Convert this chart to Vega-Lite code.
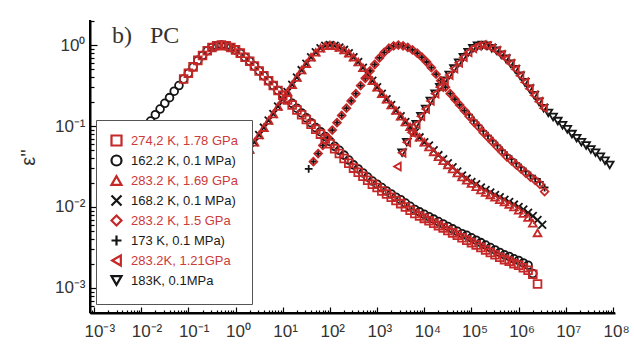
{
  "$schema": "https://vega.github.io/schema/vega-lite/v6.json",
  "width": 525,
  "height": 293,
  "autosize": {"type": "none"},
  "padding": {"left": 90, "top": 20, "right": 19, "bottom": 47},
  "background": "white",
  "config": {"view": {"stroke": null}, "axis": {"domainColor": "#000000", "domainWidth": 2, "domainOpacity": 1, "tickColor": "#000000", "tickWidth": 1.2, "tickOpacity": 1}},
  "layer": [
    {
      "data": {"values": [
        {"s":"162.2 K, 0.1 MPa)","f":5.012e-3,"e":0.0398},{"s":"162.2 K, 0.1 MPa)","f":6.31e-3,"e":0.0501},{"s":"162.2 K, 0.1 MPa)","f":7.943e-3,"e":0.0631},{"s":"162.2 K, 0.1 MPa)","f":0.01,"e":0.0776},{"s":"162.2 K, 0.1 MPa)","f":0.01259,"e":0.0955},{"s":"162.2 K, 0.1 MPa)","f":0.01585,"e":0.115},{"s":"162.2 K, 0.1 MPa)","f":0.01995,"e":0.138},{"s":"162.2 K, 0.1 MPa)","f":0.02512,"e":0.162},{"s":"162.2 K, 0.1 MPa)","f":0.03162,"e":0.191},{"s":"162.2 K, 0.1 MPa)","f":0.03981,"e":0.224},{"s":"162.2 K, 0.1 MPa)","f":0.05012,"e":0.269},{"s":"162.2 K, 0.1 MPa)","f":0.0631,"e":0.316},{"s":"162.2 K, 0.1 MPa)","f":0.07943,"e":0.38},{"s":"162.2 K, 0.1 MPa)","f":0.1,"e":0.447},{"s":"162.2 K, 0.1 MPa)","f":0.1259,"e":0.537},{"s":"162.2 K, 0.1 MPa)","f":0.1585,"e":0.646},{"s":"162.2 K, 0.1 MPa)","f":0.1995,"e":0.741},{"s":"162.2 K, 0.1 MPa)","f":0.2512,"e":0.851},{"s":"162.2 K, 0.1 MPa)","f":0.3162,"e":0.933},{"s":"162.2 K, 0.1 MPa)","f":0.3981,"e":0.977},{"s":"162.2 K, 0.1 MPa)","f":0.5012,"e":1},{"s":"162.2 K, 0.1 MPa)","f":0.631,"e":0.977},{"s":"162.2 K, 0.1 MPa)","f":0.7943,"e":0.933},{"s":"162.2 K, 0.1 MPa)","f":1,"e":0.871},{"s":"162.2 K, 0.1 MPa)","f":1.259,"e":0.794},{"s":"162.2 K, 0.1 MPa)","f":1.585,"e":0.708},{"s":"162.2 K, 0.1 MPa)","f":1.995,"e":0.631},{"s":"162.2 K, 0.1 MPa)","f":2.512,"e":0.55},{"s":"162.2 K, 0.1 MPa)","f":3.162,"e":0.479},{"s":"162.2 K, 0.1 MPa)","f":3.981,"e":0.417},{"s":"162.2 K, 0.1 MPa)","f":5.012,"e":0.363},{"s":"162.2 K, 0.1 MPa)","f":6.31,"e":0.316},{"s":"162.2 K, 0.1 MPa)","f":7.943,"e":0.275},{"s":"162.2 K, 0.1 MPa)","f":10,"e":0.24},{"s":"162.2 K, 0.1 MPa)","f":12.59,"e":0.219},{"s":"162.2 K, 0.1 MPa)","f":15.85,"e":0.191},{"s":"162.2 K, 0.1 MPa)","f":19.95,"e":0.166},{"s":"162.2 K, 0.1 MPa)","f":25.12,"e":0.145},{"s":"162.2 K, 0.1 MPa)","f":31.62,"e":0.126},{"s":"162.2 K, 0.1 MPa)","f":39.81,"e":0.11},{"s":"162.2 K, 0.1 MPa)","f":50.12,"e":0.0955},{"s":"162.2 K, 0.1 MPa)","f":63.1,"e":0.0851},{"s":"162.2 K, 0.1 MPa)","f":79.43,"e":0.0741},{"s":"162.2 K, 0.1 MPa)","f":100,"e":0.0646},{"s":"162.2 K, 0.1 MPa)","f":125.9,"e":0.0562},{"s":"162.2 K, 0.1 MPa)","f":158.5,"e":0.0501},{"s":"162.2 K, 0.1 MPa)","f":199.5,"e":0.0437},{"s":"162.2 K, 0.1 MPa)","f":251.2,"e":0.038},{"s":"162.2 K, 0.1 MPa)","f":316.2,"e":0.0331},{"s":"162.2 K, 0.1 MPa)","f":398.1,"e":0.0295},{"s":"162.2 K, 0.1 MPa)","f":501.2,"e":0.0263},{"s":"162.2 K, 0.1 MPa)","f":631,"e":0.0234},{"s":"162.2 K, 0.1 MPa)","f":794.3,"e":0.0209},{"s":"162.2 K, 0.1 MPa)","f":1000,"e":0.0191},{"s":"162.2 K, 0.1 MPa)","f":1259,"e":0.0174},{"s":"162.2 K, 0.1 MPa)","f":1585,"e":0.0158},{"s":"162.2 K, 0.1 MPa)","f":1995,"e":0.0145},{"s":"162.2 K, 0.1 MPa)","f":2512,"e":0.0132},{"s":"162.2 K, 0.1 MPa)","f":3162,"e":0.0123},{"s":"162.2 K, 0.1 MPa)","f":3981,"e":0.0112},{"s":"162.2 K, 0.1 MPa)","f":5012,"e":0.0102},{"s":"162.2 K, 0.1 MPa)","f":6310,"e":0.00933},{"s":"162.2 K, 0.1 MPa)","f":7943,"e":0.00871},{"s":"162.2 K, 0.1 MPa)","f":10000,"e":0.00813},{"s":"162.2 K, 0.1 MPa)","f":12590,"e":0.00759},{"s":"162.2 K, 0.1 MPa)","f":15850,"e":0.00708},{"s":"162.2 K, 0.1 MPa)","f":19950,"e":0.00661},{"s":"162.2 K, 0.1 MPa)","f":25120,"e":0.00617},{"s":"162.2 K, 0.1 MPa)","f":31620,"e":0.00575},{"s":"162.2 K, 0.1 MPa)","f":39810,"e":0.00537},{"s":"162.2 K, 0.1 MPa)","f":50120,"e":0.00501},{"s":"162.2 K, 0.1 MPa)","f":63100,"e":0.00468},{"s":"162.2 K, 0.1 MPa)","f":79430,"e":0.00447},{"s":"162.2 K, 0.1 MPa)","f":100000,"e":0.00417},{"s":"162.2 K, 0.1 MPa)","f":125900,"e":0.00389},{"s":"162.2 K, 0.1 MPa)","f":158500,"e":0.00363},{"s":"162.2 K, 0.1 MPa)","f":199500,"e":0.00339},{"s":"162.2 K, 0.1 MPa)","f":251200,"e":0.00316},{"s":"162.2 K, 0.1 MPa)","f":316200,"e":0.00295},{"s":"162.2 K, 0.1 MPa)","f":398100,"e":0.00275},{"s":"162.2 K, 0.1 MPa)","f":501200,"e":0.00257},{"s":"162.2 K, 0.1 MPa)","f":631000,"e":0.00245},{"s":"162.2 K, 0.1 MPa)","f":794300,"e":0.00229},{"s":"162.2 K, 0.1 MPa)","f":1000000,"e":0.00219},{"s":"162.2 K, 0.1 MPa)","f":1259000,"e":0.00204},{"s":"162.2 K, 0.1 MPa)","f":1585000,"e":0.00191},{"s":"162.2 K, 0.1 MPa)","f":1995000,"e":0.00151},
        {"s":"168.2 K, 0.1 MPa)","f":1.585,"e":0.0417},{"s":"168.2 K, 0.1 MPa)","f":1.995,"e":0.0513},{"s":"168.2 K, 0.1 MPa)","f":2.512,"e":0.0631},{"s":"168.2 K, 0.1 MPa)","f":3.162,"e":0.0776},{"s":"168.2 K, 0.1 MPa)","f":3.981,"e":0.0955},{"s":"168.2 K, 0.1 MPa)","f":5.012,"e":0.117},{"s":"168.2 K, 0.1 MPa)","f":6.31,"e":0.141},{"s":"168.2 K, 0.1 MPa)","f":7.943,"e":0.174},{"s":"168.2 K, 0.1 MPa)","f":10,"e":0.214},{"s":"168.2 K, 0.1 MPa)","f":12.59,"e":0.263},{"s":"168.2 K, 0.1 MPa)","f":15.85,"e":0.324},{"s":"168.2 K, 0.1 MPa)","f":19.95,"e":0.398},{"s":"168.2 K, 0.1 MPa)","f":25.12,"e":0.49},{"s":"168.2 K, 0.1 MPa)","f":31.62,"e":0.589},{"s":"168.2 K, 0.1 MPa)","f":39.81,"e":0.708},{"s":"168.2 K, 0.1 MPa)","f":50.12,"e":0.813},{"s":"168.2 K, 0.1 MPa)","f":63.1,"e":0.912},{"s":"168.2 K, 0.1 MPa)","f":79.43,"e":0.977},{"s":"168.2 K, 0.1 MPa)","f":100,"e":1},{"s":"168.2 K, 0.1 MPa)","f":125.9,"e":0.977},{"s":"168.2 K, 0.1 MPa)","f":158.5,"e":0.933},{"s":"168.2 K, 0.1 MPa)","f":199.5,"e":0.871},{"s":"168.2 K, 0.1 MPa)","f":251.2,"e":0.794},{"s":"168.2 K, 0.1 MPa)","f":316.2,"e":0.708},{"s":"168.2 K, 0.1 MPa)","f":398.1,"e":0.617},{"s":"168.2 K, 0.1 MPa)","f":501.2,"e":0.525},{"s":"168.2 K, 0.1 MPa)","f":631,"e":0.437},{"s":"168.2 K, 0.1 MPa)","f":794.3,"e":0.363},{"s":"168.2 K, 0.1 MPa)","f":1000,"e":0.302},{"s":"168.2 K, 0.1 MPa)","f":1259,"e":0.251},{"s":"168.2 K, 0.1 MPa)","f":1585,"e":0.214},{"s":"168.2 K, 0.1 MPa)","f":1995,"e":0.182},{"s":"168.2 K, 0.1 MPa)","f":2512,"e":0.155},{"s":"168.2 K, 0.1 MPa)","f":3162,"e":0.132},{"s":"168.2 K, 0.1 MPa)","f":3981,"e":0.112},{"s":"168.2 K, 0.1 MPa)","f":5012,"e":0.0977},{"s":"168.2 K, 0.1 MPa)","f":6310,"e":0.0832},{"s":"168.2 K, 0.1 MPa)","f":7943,"e":0.0724},{"s":"168.2 K, 0.1 MPa)","f":10000,"e":0.0631},{"s":"168.2 K, 0.1 MPa)","f":12590,"e":0.0575},{"s":"168.2 K, 0.1 MPa)","f":15850,"e":0.0501},{"s":"168.2 K, 0.1 MPa)","f":19950,"e":0.0437},{"s":"168.2 K, 0.1 MPa)","f":25120,"e":0.0389},{"s":"168.2 K, 0.1 MPa)","f":31620,"e":0.0347},{"s":"168.2 K, 0.1 MPa)","f":39810,"e":0.0309},{"s":"168.2 K, 0.1 MPa)","f":50120,"e":0.0275},{"s":"168.2 K, 0.1 MPa)","f":63100,"e":0.0245},{"s":"168.2 K, 0.1 MPa)","f":79430,"e":0.0224},{"s":"168.2 K, 0.1 MPa)","f":100000,"e":0.0204},{"s":"168.2 K, 0.1 MPa)","f":125900,"e":0.0191},{"s":"168.2 K, 0.1 MPa)","f":158500,"e":0.0174},{"s":"168.2 K, 0.1 MPa)","f":199500,"e":0.0162},{"s":"168.2 K, 0.1 MPa)","f":251200,"e":0.0151},{"s":"168.2 K, 0.1 MPa)","f":316200,"e":0.0141},{"s":"168.2 K, 0.1 MPa)","f":398100,"e":0.0132},{"s":"168.2 K, 0.1 MPa)","f":501200,"e":0.0123},{"s":"168.2 K, 0.1 MPa)","f":631000,"e":0.0115},{"s":"168.2 K, 0.1 MPa)","f":794300,"e":0.0107},{"s":"168.2 K, 0.1 MPa)","f":1000000,"e":0.01},{"s":"168.2 K, 0.1 MPa)","f":1259000,"e":0.00933},{"s":"168.2 K, 0.1 MPa)","f":1585000,"e":0.00851},{"s":"168.2 K, 0.1 MPa)","f":1995000,"e":0.00776},{"s":"168.2 K, 0.1 MPa)","f":2512000,"e":0.00692},{"s":"168.2 K, 0.1 MPa)","f":3162000,"e":0.00603},
        {"s":"173 K, 0.1 MPa)","f":35.48,"e":0.0295},{"s":"173 K, 0.1 MPa)","f":44.67,"e":0.0363},{"s":"173 K, 0.1 MPa)","f":56.23,"e":0.0457},{"s":"173 K, 0.1 MPa)","f":70.79,"e":0.0575},{"s":"173 K, 0.1 MPa)","f":89.13,"e":0.0724},{"s":"173 K, 0.1 MPa)","f":112.2,"e":0.0891},{"s":"173 K, 0.1 MPa)","f":141.3,"e":0.11},{"s":"173 K, 0.1 MPa)","f":177.8,"e":0.135},{"s":"173 K, 0.1 MPa)","f":223.9,"e":0.166},{"s":"173 K, 0.1 MPa)","f":281.8,"e":0.204},{"s":"173 K, 0.1 MPa)","f":354.8,"e":0.251},{"s":"173 K, 0.1 MPa)","f":446.7,"e":0.316},{"s":"173 K, 0.1 MPa)","f":562.3,"e":0.389},{"s":"173 K, 0.1 MPa)","f":707.9,"e":0.479},{"s":"173 K, 0.1 MPa)","f":891.3,"e":0.575},{"s":"173 K, 0.1 MPa)","f":1122,"e":0.692},{"s":"173 K, 0.1 MPa)","f":1413,"e":0.813},{"s":"173 K, 0.1 MPa)","f":1778,"e":0.912},{"s":"173 K, 0.1 MPa)","f":2239,"e":0.977},{"s":"173 K, 0.1 MPa)","f":2818,"e":1},{"s":"173 K, 0.1 MPa)","f":3548,"e":0.977},{"s":"173 K, 0.1 MPa)","f":4467,"e":0.933},{"s":"173 K, 0.1 MPa)","f":5623,"e":0.871},{"s":"173 K, 0.1 MPa)","f":7079,"e":0.794},{"s":"173 K, 0.1 MPa)","f":8913,"e":0.708},{"s":"173 K, 0.1 MPa)","f":11220,"e":0.617},{"s":"173 K, 0.1 MPa)","f":14130,"e":0.525},{"s":"173 K, 0.1 MPa)","f":17780,"e":0.437},{"s":"173 K, 0.1 MPa)","f":22390,"e":0.363},{"s":"173 K, 0.1 MPa)","f":28180,"e":0.302},{"s":"173 K, 0.1 MPa)","f":35480,"e":0.251},{"s":"173 K, 0.1 MPa)","f":44670,"e":0.214},{"s":"173 K, 0.1 MPa)","f":56230,"e":0.182},{"s":"173 K, 0.1 MPa)","f":70790,"e":0.155},{"s":"173 K, 0.1 MPa)","f":89130,"e":0.138},{"s":"173 K, 0.1 MPa)","f":112200,"e":0.117},{"s":"173 K, 0.1 MPa)","f":141300,"e":0.102},{"s":"173 K, 0.1 MPa)","f":177800,"e":0.0871},{"s":"173 K, 0.1 MPa)","f":223900,"e":0.0759},{"s":"173 K, 0.1 MPa)","f":281800,"e":0.0661},{"s":"173 K, 0.1 MPa)","f":354800,"e":0.0575},{"s":"173 K, 0.1 MPa)","f":446700,"e":0.0501},{"s":"173 K, 0.1 MPa)","f":562300,"e":0.0437},{"s":"173 K, 0.1 MPa)","f":707900,"e":0.0389},{"s":"173 K, 0.1 MPa)","f":891300,"e":0.0347},{"s":"173 K, 0.1 MPa)","f":1122000,"e":0.0309},{"s":"173 K, 0.1 MPa)","f":1413000,"e":0.0275},{"s":"173 K, 0.1 MPa)","f":1778000,"e":0.0245},{"s":"173 K, 0.1 MPa)","f":2239000,"e":0.0224},{"s":"173 K, 0.1 MPa)","f":2818000,"e":0.0204},{"s":"173 K, 0.1 MPa)","f":3548000,"e":0.0174},
        {"s":"183K, 0.1MPa","f":3388,"e":0.0468},{"s":"183K, 0.1MPa","f":4266,"e":0.0631},{"s":"183K, 0.1MPa","f":5370,"e":0.0832},{"s":"183K, 0.1MPa","f":6761,"e":0.105},{"s":"183K, 0.1MPa","f":8511,"e":0.132},{"s":"183K, 0.1MPa","f":10720,"e":0.162},{"s":"183K, 0.1MPa","f":13490,"e":0.204},{"s":"183K, 0.1MPa","f":16980,"e":0.251},{"s":"183K, 0.1MPa","f":21380,"e":0.302},{"s":"183K, 0.1MPa","f":26920,"e":0.363},{"s":"183K, 0.1MPa","f":33880,"e":0.427},{"s":"183K, 0.1MPa","f":42660,"e":0.513},{"s":"183K, 0.1MPa","f":53700,"e":0.603},{"s":"183K, 0.1MPa","f":67610,"e":0.708},{"s":"183K, 0.1MPa","f":85110,"e":0.813},{"s":"183K, 0.1MPa","f":107200,"e":0.912},{"s":"183K, 0.1MPa","f":134900,"e":0.977},{"s":"183K, 0.1MPa","f":169800,"e":1},{"s":"183K, 0.1MPa","f":213800,"e":0.977},{"s":"183K, 0.1MPa","f":269200,"e":0.912},{"s":"183K, 0.1MPa","f":338800,"e":0.851},{"s":"183K, 0.1MPa","f":426600,"e":0.759},{"s":"183K, 0.1MPa","f":537000,"e":0.676},{"s":"183K, 0.1MPa","f":676100,"e":0.589},{"s":"183K, 0.1MPa","f":851100,"e":0.501},{"s":"183K, 0.1MPa","f":1072000,"e":0.417},{"s":"183K, 0.1MPa","f":1349000,"e":0.347},{"s":"183K, 0.1MPa","f":1698000,"e":0.288},{"s":"183K, 0.1MPa","f":2138000,"e":0.24},{"s":"183K, 0.1MPa","f":2692000,"e":0.2},{"s":"183K, 0.1MPa","f":3388000,"e":0.166},{"s":"183K, 0.1MPa","f":4266000,"e":0.145},{"s":"183K, 0.1MPa","f":5370000,"e":0.129},{"s":"183K, 0.1MPa","f":6761000,"e":0.115},{"s":"183K, 0.1MPa","f":8511000,"e":0.102},{"s":"183K, 0.1MPa","f":10720000,"e":0.0912},{"s":"183K, 0.1MPa","f":13490000,"e":0.0794},{"s":"183K, 0.1MPa","f":16980000,"e":0.0708},{"s":"183K, 0.1MPa","f":21380000,"e":0.0631},{"s":"183K, 0.1MPa","f":26920000,"e":0.0575},{"s":"183K, 0.1MPa","f":33880000,"e":0.0513},{"s":"183K, 0.1MPa","f":42660000,"e":0.0468},{"s":"183K, 0.1MPa","f":53700000,"e":0.0417},{"s":"183K, 0.1MPa","f":67610000,"e":0.0372},{"s":"183K, 0.1MPa","f":85110000,"e":0.0331},
        {"s":"274,2 K, 1.78 GPa","f":0.07943,"e":0.38},{"s":"274,2 K, 1.78 GPa","f":0.1,"e":0.447},{"s":"274,2 K, 1.78 GPa","f":0.1259,"e":0.537},{"s":"274,2 K, 1.78 GPa","f":0.1585,"e":0.646},{"s":"274,2 K, 1.78 GPa","f":0.1995,"e":0.741},{"s":"274,2 K, 1.78 GPa","f":0.2512,"e":0.851},{"s":"274,2 K, 1.78 GPa","f":0.3162,"e":0.933},{"s":"274,2 K, 1.78 GPa","f":0.3981,"e":0.977},{"s":"274,2 K, 1.78 GPa","f":0.5012,"e":1},{"s":"274,2 K, 1.78 GPa","f":0.631,"e":0.977},{"s":"274,2 K, 1.78 GPa","f":0.7943,"e":0.933},{"s":"274,2 K, 1.78 GPa","f":1,"e":0.871},{"s":"274,2 K, 1.78 GPa","f":1.259,"e":0.794},{"s":"274,2 K, 1.78 GPa","f":1.585,"e":0.708},{"s":"274,2 K, 1.78 GPa","f":1.995,"e":0.631},{"s":"274,2 K, 1.78 GPa","f":2.512,"e":0.55},{"s":"274,2 K, 1.78 GPa","f":3.162,"e":0.479},{"s":"274,2 K, 1.78 GPa","f":3.981,"e":0.417},{"s":"274,2 K, 1.78 GPa","f":5.012,"e":0.363},{"s":"274,2 K, 1.78 GPa","f":6.31,"e":0.316},{"s":"274,2 K, 1.78 GPa","f":7.943,"e":0.275},{"s":"274,2 K, 1.78 GPa","f":10,"e":0.24},{"s":"274,2 K, 1.78 GPa","f":12.59,"e":0.209},{"s":"274,2 K, 1.78 GPa","f":15.85,"e":0.182},{"s":"274,2 K, 1.78 GPa","f":19.95,"e":0.158},{"s":"274,2 K, 1.78 GPa","f":25.12,"e":0.138},{"s":"274,2 K, 1.78 GPa","f":31.62,"e":0.12},{"s":"274,2 K, 1.78 GPa","f":39.81,"e":0.105},{"s":"274,2 K, 1.78 GPa","f":50.12,"e":0.0912},{"s":"274,2 K, 1.78 GPa","f":63.1,"e":0.0794},{"s":"274,2 K, 1.78 GPa","f":79.43,"e":0.0692},{"s":"274,2 K, 1.78 GPa","f":100,"e":0.0603},{"s":"274,2 K, 1.78 GPa","f":125.9,"e":0.0525},{"s":"274,2 K, 1.78 GPa","f":158.5,"e":0.0457},{"s":"274,2 K, 1.78 GPa","f":199.5,"e":0.0398},{"s":"274,2 K, 1.78 GPa","f":251.2,"e":0.0347},{"s":"274,2 K, 1.78 GPa","f":316.2,"e":0.0302},{"s":"274,2 K, 1.78 GPa","f":398.1,"e":0.0269},{"s":"274,2 K, 1.78 GPa","f":501.2,"e":0.024},{"s":"274,2 K, 1.78 GPa","f":631,"e":0.0214},{"s":"274,2 K, 1.78 GPa","f":794.3,"e":0.0191},{"s":"274,2 K, 1.78 GPa","f":1000,"e":0.0174},{"s":"274,2 K, 1.78 GPa","f":1259,"e":0.0158},{"s":"274,2 K, 1.78 GPa","f":1585,"e":0.0145},{"s":"274,2 K, 1.78 GPa","f":1995,"e":0.0132},{"s":"274,2 K, 1.78 GPa","f":2512,"e":0.012},{"s":"274,2 K, 1.78 GPa","f":3162,"e":0.011},{"s":"274,2 K, 1.78 GPa","f":3981,"e":0.01},{"s":"274,2 K, 1.78 GPa","f":5012,"e":0.00912},{"s":"274,2 K, 1.78 GPa","f":6310,"e":0.00832},{"s":"274,2 K, 1.78 GPa","f":7943,"e":0.00776},{"s":"274,2 K, 1.78 GPa","f":10000,"e":0.00724},{"s":"274,2 K, 1.78 GPa","f":12590,"e":0.00676},{"s":"274,2 K, 1.78 GPa","f":15850,"e":0.00631},{"s":"274,2 K, 1.78 GPa","f":19950,"e":0.00589},{"s":"274,2 K, 1.78 GPa","f":25120,"e":0.0055},{"s":"274,2 K, 1.78 GPa","f":31620,"e":0.00513},{"s":"274,2 K, 1.78 GPa","f":39810,"e":0.00479},{"s":"274,2 K, 1.78 GPa","f":50120,"e":0.00447},{"s":"274,2 K, 1.78 GPa","f":63100,"e":0.00417},{"s":"274,2 K, 1.78 GPa","f":79430,"e":0.00389},{"s":"274,2 K, 1.78 GPa","f":100000,"e":0.00363},{"s":"274,2 K, 1.78 GPa","f":125900,"e":0.00339},{"s":"274,2 K, 1.78 GPa","f":158500,"e":0.00316},{"s":"274,2 K, 1.78 GPa","f":199500,"e":0.00295},{"s":"274,2 K, 1.78 GPa","f":251200,"e":0.00275},{"s":"274,2 K, 1.78 GPa","f":316200,"e":0.00257},{"s":"274,2 K, 1.78 GPa","f":398100,"e":0.0024},{"s":"274,2 K, 1.78 GPa","f":501200,"e":0.00224},{"s":"274,2 K, 1.78 GPa","f":631000,"e":0.00214},{"s":"274,2 K, 1.78 GPa","f":794300,"e":0.002},{"s":"274,2 K, 1.78 GPa","f":1000000,"e":0.00191},{"s":"274,2 K, 1.78 GPa","f":1259000,"e":0.00178},{"s":"274,2 K, 1.78 GPa","f":1585000,"e":0.00166},{"s":"274,2 K, 1.78 GPa","f":1995000,"e":0.00148},{"s":"274,2 K, 1.78 GPa","f":2512000,"e":0.00112},
        {"s":"283.2 K, 1.69 GPa","f":1.995,"e":0.0513},{"s":"283.2 K, 1.69 GPa","f":2.512,"e":0.0631},{"s":"283.2 K, 1.69 GPa","f":3.162,"e":0.0776},{"s":"283.2 K, 1.69 GPa","f":3.981,"e":0.0955},{"s":"283.2 K, 1.69 GPa","f":5.012,"e":0.117},{"s":"283.2 K, 1.69 GPa","f":6.31,"e":0.141},{"s":"283.2 K, 1.69 GPa","f":7.943,"e":0.174},{"s":"283.2 K, 1.69 GPa","f":10,"e":0.214},{"s":"283.2 K, 1.69 GPa","f":12.59,"e":0.263},{"s":"283.2 K, 1.69 GPa","f":15.85,"e":0.324},{"s":"283.2 K, 1.69 GPa","f":19.95,"e":0.398},{"s":"283.2 K, 1.69 GPa","f":25.12,"e":0.49},{"s":"283.2 K, 1.69 GPa","f":31.62,"e":0.589},{"s":"283.2 K, 1.69 GPa","f":39.81,"e":0.708},{"s":"283.2 K, 1.69 GPa","f":50.12,"e":0.813},{"s":"283.2 K, 1.69 GPa","f":63.1,"e":0.912},{"s":"283.2 K, 1.69 GPa","f":79.43,"e":0.977},{"s":"283.2 K, 1.69 GPa","f":100,"e":1},{"s":"283.2 K, 1.69 GPa","f":125.9,"e":0.977},{"s":"283.2 K, 1.69 GPa","f":158.5,"e":0.933},{"s":"283.2 K, 1.69 GPa","f":199.5,"e":0.871},{"s":"283.2 K, 1.69 GPa","f":251.2,"e":0.794},{"s":"283.2 K, 1.69 GPa","f":316.2,"e":0.708},{"s":"283.2 K, 1.69 GPa","f":398.1,"e":0.617},{"s":"283.2 K, 1.69 GPa","f":501.2,"e":0.525},{"s":"283.2 K, 1.69 GPa","f":631,"e":0.437},{"s":"283.2 K, 1.69 GPa","f":794.3,"e":0.363},{"s":"283.2 K, 1.69 GPa","f":1000,"e":0.302},{"s":"283.2 K, 1.69 GPa","f":1259,"e":0.251},{"s":"283.2 K, 1.69 GPa","f":1585,"e":0.214},{"s":"283.2 K, 1.69 GPa","f":1995,"e":0.182},{"s":"283.2 K, 1.69 GPa","f":2512,"e":0.155},{"s":"283.2 K, 1.69 GPa","f":3162,"e":0.132},{"s":"283.2 K, 1.69 GPa","f":3981,"e":0.112},{"s":"283.2 K, 1.69 GPa","f":5012,"e":0.0977},{"s":"283.2 K, 1.69 GPa","f":6310,"e":0.0832},{"s":"283.2 K, 1.69 GPa","f":7943,"e":0.0724},{"s":"283.2 K, 1.69 GPa","f":10000,"e":0.0631},{"s":"283.2 K, 1.69 GPa","f":12590,"e":0.055},{"s":"283.2 K, 1.69 GPa","f":15850,"e":0.0479},{"s":"283.2 K, 1.69 GPa","f":19950,"e":0.0417},{"s":"283.2 K, 1.69 GPa","f":25120,"e":0.0372},{"s":"283.2 K, 1.69 GPa","f":31620,"e":0.0331},{"s":"283.2 K, 1.69 GPa","f":39810,"e":0.0295},{"s":"283.2 K, 1.69 GPa","f":50120,"e":0.0263},{"s":"283.2 K, 1.69 GPa","f":63100,"e":0.0234},{"s":"283.2 K, 1.69 GPa","f":79430,"e":0.0214},{"s":"283.2 K, 1.69 GPa","f":100000,"e":0.0195},{"s":"283.2 K, 1.69 GPa","f":125900,"e":0.0178},{"s":"283.2 K, 1.69 GPa","f":158500,"e":0.0162},{"s":"283.2 K, 1.69 GPa","f":199500,"e":0.0151},{"s":"283.2 K, 1.69 GPa","f":251200,"e":0.0141},{"s":"283.2 K, 1.69 GPa","f":316200,"e":0.0132},{"s":"283.2 K, 1.69 GPa","f":398100,"e":0.0123},{"s":"283.2 K, 1.69 GPa","f":501200,"e":0.0115},{"s":"283.2 K, 1.69 GPa","f":631000,"e":0.0107},{"s":"283.2 K, 1.69 GPa","f":794300,"e":0.01},{"s":"283.2 K, 1.69 GPa","f":1000000,"e":0.00912},{"s":"283.2 K, 1.69 GPa","f":1259000,"e":0.00832},{"s":"283.2 K, 1.69 GPa","f":1585000,"e":0.00741},{"s":"283.2 K, 1.69 GPa","f":1995000,"e":0.00631},{"s":"283.2 K, 1.69 GPa","f":2512000,"e":0.00479},
        {"s":"283.2 K, 1.5 GPa","f":44.67,"e":0.0363},{"s":"283.2 K, 1.5 GPa","f":56.23,"e":0.0457},{"s":"283.2 K, 1.5 GPa","f":70.79,"e":0.0575},{"s":"283.2 K, 1.5 GPa","f":89.13,"e":0.0724},{"s":"283.2 K, 1.5 GPa","f":112.2,"e":0.0891},{"s":"283.2 K, 1.5 GPa","f":141.3,"e":0.11},{"s":"283.2 K, 1.5 GPa","f":177.8,"e":0.135},{"s":"283.2 K, 1.5 GPa","f":223.9,"e":0.166},{"s":"283.2 K, 1.5 GPa","f":281.8,"e":0.204},{"s":"283.2 K, 1.5 GPa","f":354.8,"e":0.251},{"s":"283.2 K, 1.5 GPa","f":446.7,"e":0.316},{"s":"283.2 K, 1.5 GPa","f":562.3,"e":0.389},{"s":"283.2 K, 1.5 GPa","f":707.9,"e":0.479},{"s":"283.2 K, 1.5 GPa","f":891.3,"e":0.575},{"s":"283.2 K, 1.5 GPa","f":1122,"e":0.692},{"s":"283.2 K, 1.5 GPa","f":1413,"e":0.813},{"s":"283.2 K, 1.5 GPa","f":1778,"e":0.912},{"s":"283.2 K, 1.5 GPa","f":2239,"e":0.977},{"s":"283.2 K, 1.5 GPa","f":2818,"e":1},{"s":"283.2 K, 1.5 GPa","f":3548,"e":0.977},{"s":"283.2 K, 1.5 GPa","f":4467,"e":0.933},{"s":"283.2 K, 1.5 GPa","f":5623,"e":0.871},{"s":"283.2 K, 1.5 GPa","f":7079,"e":0.794},{"s":"283.2 K, 1.5 GPa","f":8913,"e":0.708},{"s":"283.2 K, 1.5 GPa","f":11220,"e":0.617},{"s":"283.2 K, 1.5 GPa","f":14130,"e":0.525},{"s":"283.2 K, 1.5 GPa","f":17780,"e":0.437},{"s":"283.2 K, 1.5 GPa","f":22390,"e":0.363},{"s":"283.2 K, 1.5 GPa","f":28180,"e":0.302},{"s":"283.2 K, 1.5 GPa","f":35480,"e":0.251},{"s":"283.2 K, 1.5 GPa","f":44670,"e":0.214},{"s":"283.2 K, 1.5 GPa","f":56230,"e":0.182},{"s":"283.2 K, 1.5 GPa","f":70790,"e":0.155},{"s":"283.2 K, 1.5 GPa","f":89130,"e":0.132},{"s":"283.2 K, 1.5 GPa","f":112200,"e":0.112},{"s":"283.2 K, 1.5 GPa","f":141300,"e":0.0977},{"s":"283.2 K, 1.5 GPa","f":177800,"e":0.0832},{"s":"283.2 K, 1.5 GPa","f":223900,"e":0.0724},{"s":"283.2 K, 1.5 GPa","f":281800,"e":0.0631},{"s":"283.2 K, 1.5 GPa","f":354800,"e":0.055},{"s":"283.2 K, 1.5 GPa","f":446700,"e":0.0479},{"s":"283.2 K, 1.5 GPa","f":562300,"e":0.0417},{"s":"283.2 K, 1.5 GPa","f":707900,"e":0.0372},{"s":"283.2 K, 1.5 GPa","f":891300,"e":0.0331},{"s":"283.2 K, 1.5 GPa","f":1122000,"e":0.0295},{"s":"283.2 K, 1.5 GPa","f":1413000,"e":0.0263},{"s":"283.2 K, 1.5 GPa","f":1778000,"e":0.0234},{"s":"283.2 K, 1.5 GPa","f":2239000,"e":0.0214},{"s":"283.2 K, 1.5 GPa","f":2818000,"e":0.0191},{"s":"283.2 K, 1.5 GPa","f":3548000,"e":0.0155},
        {"s":"283.2K, 1.21GPa","f":2692,"e":0.0316},{"s":"283.2K, 1.21GPa","f":3388,"e":0.0468},{"s":"283.2K, 1.21GPa","f":4266,"e":0.0631},{"s":"283.2K, 1.21GPa","f":5370,"e":0.0832},{"s":"283.2K, 1.21GPa","f":6761,"e":0.105},{"s":"283.2K, 1.21GPa","f":8511,"e":0.132},{"s":"283.2K, 1.21GPa","f":10720,"e":0.162},{"s":"283.2K, 1.21GPa","f":13490,"e":0.204},{"s":"283.2K, 1.21GPa","f":16980,"e":0.251},{"s":"283.2K, 1.21GPa","f":21380,"e":0.302},{"s":"283.2K, 1.21GPa","f":26920,"e":0.363},{"s":"283.2K, 1.21GPa","f":33880,"e":0.427},{"s":"283.2K, 1.21GPa","f":42660,"e":0.513},{"s":"283.2K, 1.21GPa","f":53700,"e":0.603},{"s":"283.2K, 1.21GPa","f":67610,"e":0.708},{"s":"283.2K, 1.21GPa","f":85110,"e":0.813},{"s":"283.2K, 1.21GPa","f":107200,"e":0.912},{"s":"283.2K, 1.21GPa","f":134900,"e":0.977},{"s":"283.2K, 1.21GPa","f":169800,"e":1},{"s":"283.2K, 1.21GPa","f":213800,"e":0.977},{"s":"283.2K, 1.21GPa","f":269200,"e":0.912},{"s":"283.2K, 1.21GPa","f":338800,"e":0.851},{"s":"283.2K, 1.21GPa","f":426600,"e":0.759},{"s":"283.2K, 1.21GPa","f":537000,"e":0.676},{"s":"283.2K, 1.21GPa","f":676100,"e":0.589},{"s":"283.2K, 1.21GPa","f":851100,"e":0.501},{"s":"283.2K, 1.21GPa","f":1072000,"e":0.417},{"s":"283.2K, 1.21GPa","f":1349000,"e":0.347},{"s":"283.2K, 1.21GPa","f":1698000,"e":0.288},{"s":"283.2K, 1.21GPa","f":2138000,"e":0.24},{"s":"283.2K, 1.21GPa","f":2692000,"e":0.2},{"s":"283.2K, 1.21GPa","f":3388000,"e":0.166}
      ]},
      "mark": {"type": "point", "filled": false, "size": 60, "strokeWidth": 1.8, "opacity": 1},
      "encoding": {
        "x": {
          "field": "f", "type": "quantitative",
          "scale": {"type": "log", "domain": [0.000822, 110200000], "nice": false},
          "axis": {
            "title": null, "grid": false,
            "values": [0.0009,0.001,0.002,0.003,0.004,0.005,0.006,0.007,0.008,0.009,0.01,0.02,0.03,0.04,0.05,0.06,0.07,0.08,0.09,0.1,0.2,0.3,0.4,0.5,0.6,0.7,0.8,0.9,1,2,3,4,5,6,7,8,9,10,20,30,40,50,60,70,80,90,100,200,300,400,500,600,700,800,900,1000,2000,3000,4000,5000,6000,7000,8000,9000,10000,20000,30000,40000,50000,60000,70000,80000,90000,100000,200000,300000,400000,500000,600000,700000,800000,900000,1000000,2000000,3000000,4000000,5000000,6000000,7000000,8000000,9000000,10000000,20000000,30000000,40000000,50000000,60000000,70000000,80000000,90000000,100000000],
            "labelExpr": "abs(log(datum.value)/LN10 - round(log(datum.value)/LN10)) < 0.001 ? '10' + (datum.value < 0.5 ? '⁻' : '') + substring('⁰¹²³⁴⁵⁶⁷⁸⁹', abs(round(log(datum.value)/LN10)), abs(round(log(datum.value)/LN10)) + 1) : ''",
            "labelOverlap": false, "labelFlush": false, "labelBound": false,
            "domainColor": "#000000", "domainWidth": 2,
            "tickColor": "#000000", "tickWidth": 1.2,
            "tickSize": {"condition": {"test": "abs(log(datum.value)/LN10 - round(log(datum.value)/LN10)) < 0.001", "value": -6}, "value": -3},
            "labelPadding": 16,
            "labelFont": "Liberation Sans", "labelFontSize": 17, "labelColor": "#333",
            "labelAlign": "left", "labelOffset": -10
          }
        },
        "y": {
          "field": "e", "type": "quantitative",
          "scale": {"type": "log", "domain": [0.000491, 2.037], "nice": false},
          "axis": {
            "title": "ε''", "grid": false,
            "values": [0.0005,0.0006,0.0007,0.0008,0.0009,0.001,0.002,0.003,0.004,0.005,0.006,0.007,0.008,0.009,0.01,0.02,0.03,0.04,0.05,0.06,0.07,0.08,0.09,0.1,0.2,0.3,0.4,0.5,0.6,0.7,0.8,0.9,1,2],
            "labelExpr": "abs(log(datum.value)/LN10 - round(log(datum.value)/LN10)) < 0.001 ? '10' + (datum.value < 0.5 ? '⁻' : '') + substring('⁰¹²³⁴⁵⁶⁷⁸⁹', abs(round(log(datum.value)/LN10)), abs(round(log(datum.value)/LN10)) + 1) : ''",
            "labelOverlap": false, "labelFlush": false, "labelBound": false,
            "domainColor": "#000000", "domainWidth": 2,
            "tickColor": "#000000", "tickWidth": 1.2,
            "tickSize": {"condition": {"test": "abs(log(datum.value)/LN10 - round(log(datum.value)/LN10)) < 0.001", "value": -7}, "value": -4},
            "labelPadding": 12,
            "labelFont": "Liberation Sans", "labelFontSize": 17, "labelColor": "#333",
            "labelBaseline": "middle",
            "titleFont": "Liberation Sans", "titleFontSize": 20, "titleFontWeight": "normal", "titleColor": "#333",
            "titleX": -62, "titleY": 137, "titleAngle": 270, "titleAlign": "center", "titleBaseline": "middle"
          }
        },
        "color": {
          "field": "s", "type": "nominal",
          "scale": {
            "domain": ["274,2 K, 1.78 GPa","162.2 K, 0.1 MPa)","283.2 K, 1.69 GPa","168.2 K, 0.1 MPa)","283.2 K, 1.5 GPa","173 K, 0.1 MPa)","283.2K, 1.21GPa","183K, 0.1MPa"],
            "range": ["#c62828","#151515","#c62828","#151515","#c62828","#151515","#c62828","#151515"]
          },
          "legend": {
            "title": null, "orient": "none", "legendX": 6, "legendY": 100,
            "padding": 14, "strokeColor": "#555", "fillColor": "#ffffff",
            "labelFont": "Liberation Sans", "labelFontSize": 13,
            "labelColor": {"expr": "indexof(datum.value, 'GPa') >= 0 ? '#cc3a3a' : '#1a1a1a'"},
            "symbolSize": 100, "symbolStrokeWidth": 2.2, "rowPadding": 1, "labelOffset": 8
          }
        },
        "shape": {
          "field": "s", "type": "nominal",
          "scale": {
            "domain": ["274,2 K, 1.78 GPa","162.2 K, 0.1 MPa)","283.2 K, 1.69 GPa","168.2 K, 0.1 MPa)","283.2 K, 1.5 GPa","173 K, 0.1 MPa)","283.2K, 1.21GPa","183K, 0.1MPa"],
            "range": ["square","circle","triangle-up","M-1,-1L1,1M-1,1L1,-1","diamond","M-1,0L1,0M0,-1L0,1","triangle-left","triangle-down"]
          },
          "legend": {
            "title": null, "orient": "none", "legendX": 6, "legendY": 100,
            "padding": 14, "strokeColor": "#555", "fillColor": "#ffffff",
            "labelFont": "Liberation Sans", "labelFontSize": 13,
            "labelColor": {"expr": "indexof(datum.value, 'GPa') >= 0 ? '#cc3a3a' : '#1a1a1a'"},
            "symbolSize": 100, "symbolStrokeWidth": 2.2, "rowPadding": 1, "labelOffset": 8
          }
        }
      }
    },
    {
      "data": {"values": [{}]},
      "mark": {"type": "rule", "color": "#000000", "strokeWidth": 2},
      "encoding": {
        "x": {"datum": 0.000822, "type": "quantitative"},
        "x2": {"datum": 110200000},
        "y": {"datum": 0.000491, "type": "quantitative"}
      }
    },
    {
      "data": {"values": [{}]},
      "mark": {"type": "rule", "color": "#000000", "strokeWidth": 2},
      "encoding": {
        "x": {"datum": 0.000822, "type": "quantitative"},
        "y": {"datum": 0.000491, "type": "quantitative"},
        "y2": {"datum": 2.037}
      }
    },
    {
      "data": {"values": [{"t": "b)\u00a0\u00a0\u00a0PC"}]},
      "mark": {"type": "text", "font": "Liberation Serif", "fontSize": 24, "align": "left", "baseline": "alphabetic", "color": "#333"},
      "encoding": {
        "x": {"datum": 0.0024, "type": "quantitative"},
        "y": {"datum": 1.06, "type": "quantitative"},
        "text": {"field": "t"}
      }
    }
  ]
}
